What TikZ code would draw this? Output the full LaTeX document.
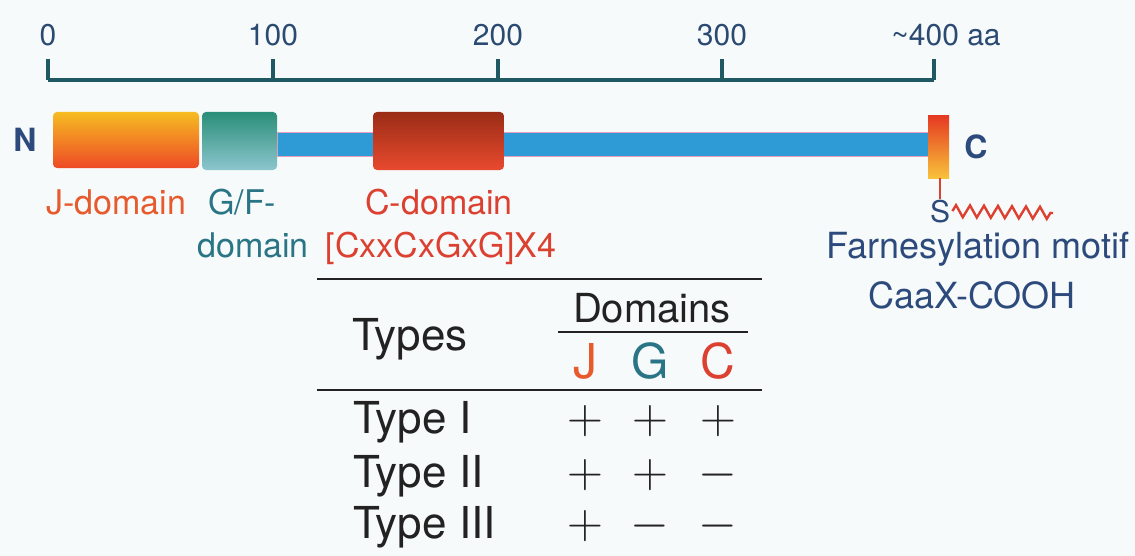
\documentclass[tikz,border=0pt]{standalone}
\usepackage{fontspec}
\setmainfont{TeX Gyre Heros}
\usetikzlibrary{decorations.pathmorphing}
\definecolor{axisCol}{HTML}{1F5A62}
\definecolor{numCol}{HTML}{2B4A72}
\definecolor{linkBlue}{HTML}{2E9AD6}
\definecolor{linkEdge}{HTML}{E8A0C0}
\definecolor{jCol}{HTML}{E65A2E}
\definecolor{gCol}{HTML}{2A7585}
\definecolor{cCol}{HTML}{DC4030}
\definecolor{farnCol}{HTML}{2C4A7C}
\definecolor{bgCol}{HTML}{F7FAFA}
\definecolor{jTop}{HTML}{F6BC22}
\definecolor{jMid}{HTML}{F4822A}
\definecolor{jBot}{HTML}{EE4A26}
\definecolor{gTop}{HTML}{2A8E78}
\definecolor{gBot}{HTML}{8CC6CE}
\definecolor{cTop}{HTML}{9A2C16}
\definecolor{cBot}{HTML}{E84A2E}
\definecolor{eTop}{HTML}{E53A22}
\definecolor{eBot}{HTML}{F8C23A}
\definecolor{tabCol}{HTML}{222222}
\tikzset{
  num/.style={text=numCol, font=\fontsize{15}{17}\selectfont, inner sep=0pt, anchor=base},
  dombox/.style={rounded corners=2pt, minimum height=28pt, inner sep=0pt},
  lbl/.style={font=\fontsize{17}{19}\selectfont, inner sep=0pt, anchor=base},
  term/.style={font=\bfseries\fontsize{16}{18}\selectfont, text=farnCol, inner sep=0pt, anchor=base},
  tab/.style={text=tabCol, font=\fontsize{22}{25}\selectfont, inner sep=0pt, anchor=base},
  sign/.style={text=tabCol, font=\fontsize{23}{25}\selectfont, inner sep=0pt, anchor=base, text height=12pt, text depth=1pt},
  axis/.style={axisCol, line width=1.6pt},
  rule/.style={tabCol, line width=1.4pt},
}
\begin{document}
\begin{tikzpicture}[x=0.5pt,y=-0.5pt]
    % Fond
        \fill[bgCol] (0,0) rectangle (1135,556);
        \useasboundingbox (0,0) rectangle (1135,556);
    % Echelle
        \coordinate (ax0) at (48,80);
        \coordinate (ax400) at (934,80);
        \draw[axis] (ax0) -- (ax400);
        \foreach \x/\t in {48/0,273/100,498/200,722/300}{
            \draw[axis] (\x,80) -- (\x,59);
            \node[num] (num\t) at (\x,46) {\t};
        }
        \draw[axis] (ax400) -- (934,59);
        \node[num] (num400) at (946,46) {\textasciitilde400 aa};
    % Proteine
        \node[fill=linkBlue, draw=linkEdge, line width=0.4pt, minimum width=326pt, minimum height=12pt, inner sep=0pt] (linker) at (603,144) {};
        \node[dombox, minimum width=73pt, top color=jTop, middle color=jMid, bottom color=jBot] (jDom) at (126,140) {};
        \node[dombox, minimum width=37.5pt, minimum height=29pt, top color=gTop, bottom color=gBot] (gDom) at (239.5,141) {};
        \node[dombox, minimum width=65.5pt, minimum height=29pt, top color=cTop, middle color=cBot!85!cTop, bottom color=cBot] (cDom) at (438.5,141) {};
        \node[minimum width=10.5pt, minimum height=31pt, inner sep=0pt, top color=eTop, bottom color=eBot] (cEnd) at (938.5,147) {};
        \node[term] (nTerm) at (25,152) {N};
        \node[term] (cTerm) at (976,159) {C};
    % Labels
        \node[lbl, text=jCol] (jLbl) at (116,214) {J-domain};
        \node[lbl, text=gCol] (gLbl) at (242,214) {G/F-};
        \node[lbl, text=gCol] (gLblb) at (253,257) {domain};
        \node[lbl, text=cCol] (cLbl) at (439,214) {C-domain};
        \node[lbl, text=cCol] (cLblb) at (441,257) {[CxxCxGxG]X4};
    % Farnesylation
        \node[font=\fontsize{15}{17}\selectfont, text=farnCol, inner sep=0pt, anchor=base] (sAtom) at (940,222) {S};
        \draw[cCol, line width=1pt] (cEnd.south -| sAtom) -- (sAtom.north);
        \coordinate (farnEnd) at (1053,213);
        \draw[cCol, line width=1.2pt, decorate, decoration={zigzag, segment length=7pt, amplitude=3pt}] (sAtom.east) ++(2,0) -- (farnEnd);
        \node[lbl, font=\fontsize{18}{20}\selectfont, text=farnCol] (farnLbl) at (978,258) {Farnesylation motif};
        \node[lbl, font=\fontsize{18}{20}\selectfont, text=farnCol] (caaxLbl) at (972,308) {CaaX-COOH};
    % Tableau
        \coordinate (ruleTopL) at (317,279); \coordinate (ruleTopR) at (762,279);
        \coordinate (ruleMidL) at (317,390); \coordinate (ruleMidR) at (762,390);
        \coordinate (domL) at (558,332); \coordinate (domR) at (748,332);
        \draw[rule] (ruleTopL) -- (ruleTopR);
        \draw[rule] (ruleMidL) -- (ruleMidR);
        \draw[tabCol, line width=1pt] (domL) -- (domR);
        \node[tab] (types) at (410,350) {Types};
        \node[tab, font=\fontsize{20}{22}\selectfont] (domains) at (652,322) {Domains};
        \node[tab, font=\fontsize{24}{26}\selectfont, text=jCol] (colJ) at (585,378) {J};
        \node[tab, font=\fontsize{24}{26}\selectfont, text=gCol] (colG) at (650,378) {G};
        \node[tab, font=\fontsize{24}{26}\selectfont, text=cCol] (colC) at (718,378) {C};
        \foreach \y/\t/\a/\b/\c in {433/Type I/+/+/+, 487/Type II/+/+/-, 538/Type III/+/-/-}{
            \node[tab, anchor=base west] (row\y) at (353,\y) {\t};
            \node[sign] at (585,\y) {$\a$};
            \node[sign] at (650,\y) {$\b$};
            \node[sign] at (718,\y) {$\c$};
        }
\end{tikzpicture}
\end{document}
